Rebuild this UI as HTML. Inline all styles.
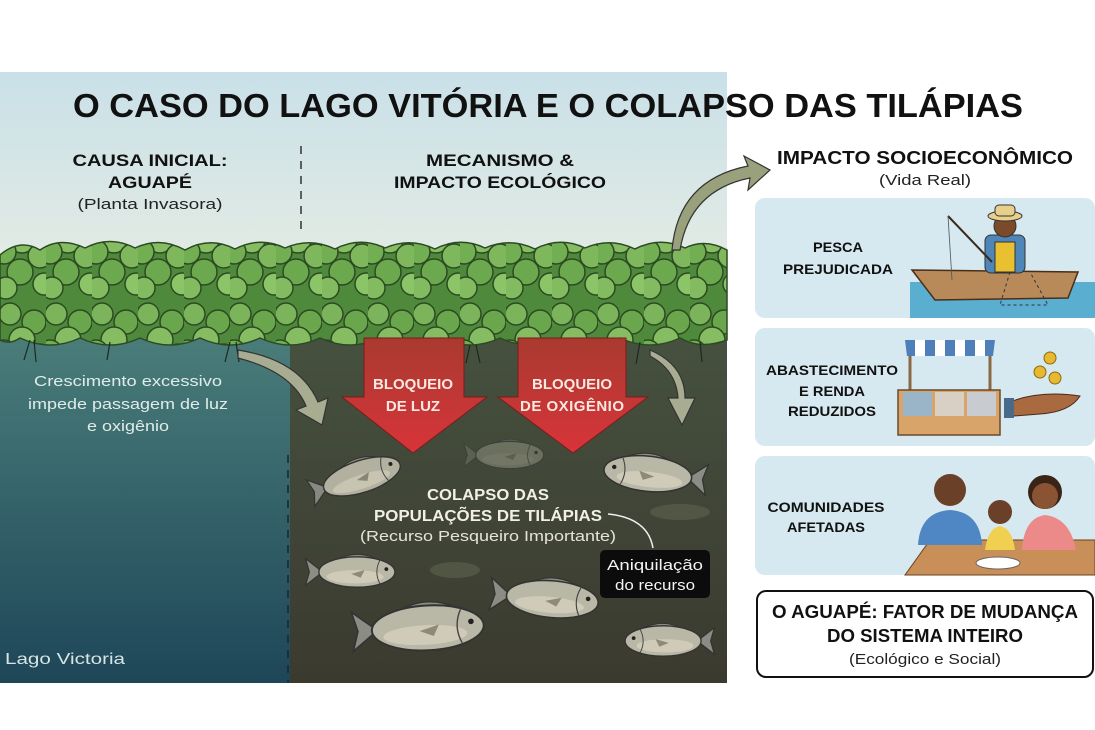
<!DOCTYPE html>
<html><head><meta charset="utf-8"><style>
html,body{margin:0;padding:0;background:#fff;}
svg{display:block;}
text{font-family:"Liberation Sans",sans-serif;}
</style></head><body>
<svg width="1095" height="730" viewBox="0 0 1095 730" xmlns="http://www.w3.org/2000/svg">
<defs>
<linearGradient id="sky" x1="0" y1="0" x2="0" y2="1">
<stop offset="0" stop-color="#c9e0e8"/><stop offset="1" stop-color="#eef0e2"/></linearGradient>
<linearGradient id="lw" x1="0" y1="0" x2="0" y2="1">
<stop offset="0" stop-color="#4a7d7a"/><stop offset="1" stop-color="#1e4658"/></linearGradient>
<linearGradient id="mw" x1="0" y1="0" x2="0" y2="1">
<stop offset="0" stop-color="#46513f"/><stop offset="1" stop-color="#3b3a2f"/></linearGradient>
<linearGradient id="red" x1="0" y1="0" x2="0" y2="1">
<stop offset="0" stop-color="#a93a30"/><stop offset="1" stop-color="#d8343a"/></linearGradient>
<pattern id="leaf" width="46" height="100" patternUnits="userSpaceOnUse">
<rect width="46" height="100" fill="#4f8a3c"/>
<g stroke="#2c4a22" stroke-width="1.5">
<circle cx="10" cy="14" r="11" fill="#7bb45a"/>
<circle cx="34" cy="22" r="12" fill="#6aa74c"/>
<circle cx="22" cy="40" r="13" fill="#86bd62"/>
<circle cx="4" cy="52" r="12" fill="#72ae52"/>
<circle cx="40" cy="56" r="12" fill="#7fb85c"/>
<circle cx="20" cy="72" r="13" fill="#6ca94e"/>
<circle cx="44" cy="84" r="11" fill="#8cc468"/>
<circle cx="6" cy="88" r="11" fill="#82bb60"/>
</g>
</pattern>
<g id="fish">
<path d="M-34,0 L-52,-14 L-48,0 L-52,14 Z" fill="#8b8d84" stroke="#333" stroke-width="1.2"/>
<path d="M-20,-12 Q0,-24 22,-14 L10,-10 Z" fill="#8a8c80" stroke="#333" stroke-width="1"/>
<ellipse cx="2" cy="0" rx="40" ry="16" fill="#b9b7a6" stroke="#333" stroke-width="1.4"/>
<ellipse cx="0" cy="5" rx="30" ry="7" fill="#cfcbb8"/>
<path d="M26,-12 Q20,0 26,12" fill="none" stroke="#444" stroke-width="1"/>
<circle cx="33" cy="-3" r="2" fill="#222"/>
<path d="M-4,2 L10,-2 L6,6 Z" fill="#8e8a7a"/>
</g>
</defs>

<rect x="0" y="72" width="727" height="270" fill="url(#sky)"/>
<rect x="0" y="335" width="290" height="348" fill="url(#lw)"/>
<rect x="290" y="335" width="437" height="348" fill="url(#mw)"/>
<path d="M0,255 Q20,238 40,250 Q60,236 85,248 Q110,235 135,248 Q160,236 185,250 Q210,236 235,249 Q260,236 285,248 Q310,237 335,249 Q360,236 385,248 Q410,237 435,249 Q460,236 485,248 Q510,237 535,249 Q560,236 585,248 Q610,237 635,249 Q660,236 685,248 Q705,238 727,250 L727,340 Q700,350 680,338 Q650,352 620,338 Q590,352 560,338 Q530,352 500,338 Q470,352 440,338 Q410,352 380,338 Q350,352 320,338 Q290,352 260,338 Q230,352 200,338 Q170,352 140,338 Q110,352 80,338 Q50,352 20,338 Q10,345 0,340 Z" fill="url(#leaf)" stroke="#2c4a22" stroke-width="1.5"/>
<g stroke="#1a2a22" stroke-width="1.2" fill="none">
<path d="M30,340 l-6,20 M34,340 l2,22 M230,342 l-5,20 M236,342 l3,20 M470,345 l-4,18 M476,345 l4,18 M400,340 l-3,20 M560,342 l3,18 M640,342 l-4,22 M700,342 l2,20 M110,342 l-3,18"/>
</g>
<line x1="301" y1="146" x2="301" y2="232" stroke="#333" stroke-width="1.5" stroke-dasharray="8,7"/>
<line x1="288" y1="455" x2="288" y2="683" stroke="#1a2530" stroke-width="1.5" stroke-dasharray="8,7"/>

<path d="M364,338 L464,338 L464,397 L487,397 L413,453 L342,397 L364,397 Z" fill="url(#red)" stroke="#7a1c1c" stroke-width="1"/>
<path d="M518,338 L626,338 L626,397 L648,397 L573,453 L498,397 L518,397 Z" fill="url(#red)" stroke="#7a1c1c" stroke-width="1"/>
<text x="413" y="389" text-anchor="middle" font-weight="bold" font-size="15" fill="#fbe8e0">BLOQUEIO</text>
<text x="413" y="411" text-anchor="middle" font-weight="bold" font-size="15" fill="#fbe8e0">DE LUZ</text>
<text x="572" y="389" text-anchor="middle" font-weight="bold" font-size="15" fill="#fbe8e0">BLOQUEIO</text>
<text x="572" y="411" text-anchor="middle" font-weight="bold" font-size="15" fill="#fbe8e0" textLength="104">DE OXIGÊNIO</text>

<path d="M238,350 Q300,360 318,402 L328,398 L322,425 L296,410 L306,406 Q292,372 238,358 Z" fill="#a8ad92" stroke="#333" stroke-width="1.2"/>
<path d="M650,350 Q685,365 685,398 L695,398 L682,425 L668,398 L678,398 Q676,370 650,356 Z" fill="#a8ad92" stroke="#333" stroke-width="1.2"/>
<path d="M672,250 Q678,180 748,166 L744,156 L770,170 L748,190 L750,178 Q690,190 680,250 Z" fill="#98a07c" stroke="#333" stroke-width="1.2"/>

<use href="#fish" transform="translate(360,477) rotate(-18) scale(1)" opacity="0.95"/>
<use href="#fish" transform="translate(508,455) scale(0.85)" opacity="0.35"/>
<use href="#fish" transform="translate(650,474) rotate(6) scale(-1.1,1.1)"/>
<use href="#fish" transform="translate(355,572) scale(0.95)"/>
<use href="#fish" transform="translate(550,599) rotate(5) scale(1.15)"/>
<use href="#fish" transform="translate(425,628) rotate(-3) scale(1.4)"/>
<use href="#fish" transform="translate(665,641) scale(-0.95,0.95)"/>
<ellipse cx="455" cy="570" rx="25" ry="8" fill="#5a5e4c" opacity="0.7"/>
<ellipse cx="680" cy="512" rx="30" ry="8" fill="#5a5e4c" opacity="0.7"/>

<text x="548" y="117" text-anchor="middle" font-weight="bold" font-size="33" fill="#111" textLength="950" lengthAdjust="spacingAndGlyphs">O CASO DO LAGO VITÓRIA E O COLAPSO DAS TILÁPIAS</text>
<text x="150" y="166" text-anchor="middle" font-weight="bold" font-size="17" fill="#111" textLength="155" lengthAdjust="spacingAndGlyphs">CAUSA INICIAL:</text>
<text x="150" y="188" text-anchor="middle" font-weight="bold" font-size="17" fill="#111" textLength="84" lengthAdjust="spacingAndGlyphs">AGUAPÉ</text>
<text x="150" y="209" text-anchor="middle" font-size="15" fill="#222" textLength="145" lengthAdjust="spacingAndGlyphs">(Planta Invasora)</text>
<text x="500" y="166" text-anchor="middle" font-weight="bold" font-size="17" fill="#111" textLength="148" lengthAdjust="spacingAndGlyphs">MECANISMO &amp;</text>
<text x="500" y="188" text-anchor="middle" font-weight="bold" font-size="17" fill="#111" textLength="212" lengthAdjust="spacingAndGlyphs">IMPACTO ECOLÓGICO</text>
<text x="128" y="386" text-anchor="middle" font-size="15" fill="#e0ece8" textLength="188" lengthAdjust="spacingAndGlyphs">Crescimento excessivo</text>
<text x="128" y="409" text-anchor="middle" font-size="15" fill="#e0ece8" textLength="200" lengthAdjust="spacingAndGlyphs">impede passagem de luz</text>
<text x="128" y="431" text-anchor="middle" font-size="15" fill="#e0ece8" textLength="82" lengthAdjust="spacingAndGlyphs">e oxigênio</text>
<text x="5" y="664" font-size="16" fill="#d8e4e4" textLength="120" lengthAdjust="spacingAndGlyphs">Lago Victoria</text>
<text x="488" y="500" text-anchor="middle" font-weight="bold" font-size="16" fill="#f2f0e6" textLength="122" lengthAdjust="spacingAndGlyphs">COLAPSO DAS</text>
<text x="488" y="521" text-anchor="middle" font-weight="bold" font-size="16" fill="#f2f0e6" textLength="228" lengthAdjust="spacingAndGlyphs">POPULAÇÕES DE TILÁPIAS</text>
<text x="488" y="541" text-anchor="middle" font-size="15" fill="#e6e4d8" textLength="256" lengthAdjust="spacingAndGlyphs">(Recurso Pesqueiro Importante)</text>
<path d="M608,514 Q648,518 653,548" fill="none" stroke="#eee" stroke-width="1.5"/>
<rect x="600" y="550" width="110" height="48" rx="5" fill="#0c0c0c"/>
<text x="655" y="570" text-anchor="middle" font-size="15" fill="#f4f4f4" textLength="96" lengthAdjust="spacingAndGlyphs">Aniquilação</text>
<text x="655" y="590" text-anchor="middle" font-size="15" fill="#f4f4f4" textLength="80" lengthAdjust="spacingAndGlyphs">do recurso</text>

<text x="925" y="164" text-anchor="middle" font-weight="bold" font-size="18" fill="#111" textLength="296" lengthAdjust="spacingAndGlyphs">IMPACTO SOCIOECONÔMICO</text>
<text x="925" y="185" text-anchor="middle" font-size="15" fill="#222" textLength="92" lengthAdjust="spacingAndGlyphs">(Vida Real)</text>

<rect x="755" y="198" width="340" height="120" rx="10" fill="#d6e8f0"/>
<rect x="755" y="328" width="340" height="118" rx="10" fill="#d6e8f0"/>
<rect x="755" y="456" width="340" height="119" rx="10" fill="#d6e8f0"/>

<text x="838" y="252" text-anchor="middle" font-weight="bold" font-size="14" fill="#111" textLength="50" lengthAdjust="spacingAndGlyphs">PESCA</text>
<text x="838" y="274" text-anchor="middle" font-weight="bold" font-size="14" fill="#111" textLength="110" lengthAdjust="spacingAndGlyphs">PREJUDICADA</text>
<text x="832" y="375" text-anchor="middle" font-weight="bold" font-size="14" fill="#111" textLength="132" lengthAdjust="spacingAndGlyphs">ABASTECIMENTO</text>
<text x="832" y="396" text-anchor="middle" font-weight="bold" font-size="14" fill="#111" textLength="66" lengthAdjust="spacingAndGlyphs">E RENDA</text>
<text x="832" y="416" text-anchor="middle" font-weight="bold" font-size="14" fill="#111" textLength="88" lengthAdjust="spacingAndGlyphs">REDUZIDOS</text>
<text x="826" y="512" text-anchor="middle" font-weight="bold" font-size="14" fill="#111" textLength="117" lengthAdjust="spacingAndGlyphs">COMUNIDADES</text>
<text x="826" y="532" text-anchor="middle" font-weight="bold" font-size="14" fill="#111" textLength="78" lengthAdjust="spacingAndGlyphs">AFETADAS</text>

<rect x="910" y="282" width="185" height="36" fill="#5aaed0"/>
<path d="M912,270 L1078,272 L1068,298 L935,300 Z" fill="#b88a5a" stroke="#4a2e18" stroke-width="1.5"/>
<rect x="985" y="235" width="40" height="38" rx="6" fill="#4f86b8" stroke="#333"/>
<rect x="995" y="242" width="20" height="30" fill="#e8c030" stroke="#333"/>
<circle cx="1005" cy="226" r="11" fill="#7a4a2a" stroke="#333"/>
<ellipse cx="1005" cy="216" rx="17" ry="5" fill="#e8d08a" stroke="#333"/>
<rect x="995" y="205" width="20" height="11" rx="4" fill="#e8d08a" stroke="#333"/>
<line x1="948" y1="216" x2="992" y2="262" stroke="#3a2a1a" stroke-width="2"/>
<path d="M948,216 Q950,250 952,280" fill="none" stroke="#555" stroke-width="0.8"/>
<path d="M1010,272 L1000,305 L1048,305 L1030,272" fill="none" stroke="#333" stroke-dasharray="3,3"/>

<path d="M905,340 L995,340 L993,356 L907,356 Z" fill="#4e7fb8"/>
<g fill="#fff"><rect x="915" y="340" width="10" height="16"/><rect x="935" y="340" width="10" height="16"/><rect x="955" y="340" width="10" height="16"/><rect x="975" y="340" width="10" height="16"/></g>
<line x1="910" y1="356" x2="910" y2="400" stroke="#8a6a45" stroke-width="3"/>
<line x1="990" y1="356" x2="990" y2="400" stroke="#8a6a45" stroke-width="3"/>
<rect x="898" y="390" width="102" height="45" fill="#d9a46a" stroke="#6a4a2a" stroke-width="1.5"/>
<rect x="903" y="392" width="29" height="24" fill="#9ab4c8"/><rect x="935" y="392" width="29" height="24" fill="#d8d0c4"/><rect x="967" y="392" width="29" height="24" fill="#c8ccd0"/>
<circle cx="1050" cy="358" r="6" fill="#e8b830" stroke="#8a6a10"/><circle cx="1040" cy="372" r="6" fill="#e8b830" stroke="#8a6a10"/><circle cx="1055" cy="378" r="6" fill="#e8b830" stroke="#8a6a10"/>
<path d="M1010,402 Q1040,390 1080,396 Q1070,412 1040,414 L1014,416 Z" fill="#a86a3e" stroke="#4a2a1a"/>
<rect x="1004" y="398" width="10" height="20" fill="#4a6a8a"/>

<path d="M905,575 L930,540 L1095,540 L1095,575 Z" fill="#c89058" stroke="#6a4020"/>
<path d="M918,545 Q920,512 950,510 Q980,512 982,545 Z" fill="#4f86c4"/>
<circle cx="950" cy="490" r="16" fill="#6a4028"/>
<path d="M985,550 Q988,528 1000,526 Q1012,528 1015,550 Z" fill="#f0d050"/>
<circle cx="1000" cy="512" r="12" fill="#6a4028"/>
<path d="M1022,550 Q1024,518 1045,515 Q1070,518 1076,550 Z" fill="#ec8a8a"/>
<circle cx="1045" cy="492" r="17" fill="#3a2418"/>
<circle cx="1045" cy="496" r="13" fill="#8a5434"/>
<ellipse cx="998" cy="563" rx="22" ry="6" fill="#fff" stroke="#666"/>

<rect x="757" y="591" width="336" height="86" rx="9" fill="#fff" stroke="#111" stroke-width="2"/>
<text x="925" y="618" text-anchor="middle" font-weight="bold" font-size="18" fill="#111" textLength="306" lengthAdjust="spacingAndGlyphs">O AGUAPÉ: FATOR DE MUDANÇA</text>
<text x="925" y="642" text-anchor="middle" font-weight="bold" font-size="18" fill="#111" textLength="196" lengthAdjust="spacingAndGlyphs">DO SISTEMA INTEIRO</text>
<text x="925" y="664" text-anchor="middle" font-size="15" fill="#222" textLength="152" lengthAdjust="spacingAndGlyphs">(Ecológico e Social)</text>
</svg>
</body></html>
